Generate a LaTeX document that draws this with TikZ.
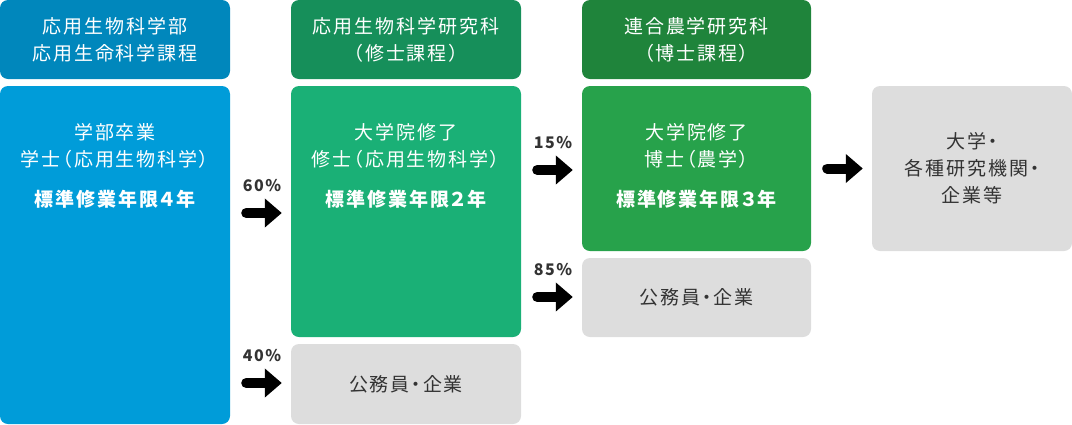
\documentclass[tikz,border=0pt]{standalone}
\usepackage{fontspec}
\setmainfont{Noto Sans CJK JP}
\newfontfamily\boxfont[LetterSpace=10,RawFeature=+palt]{Noto Sans CJK JP}
\usetikzlibrary{
  arrows.meta,
  positioning,
  calc
}

\definecolor{hdrblue}{HTML}{0087BC}
\definecolor{mainblue}{HTML}{009CD9}
\definecolor{hdrgreen}{HTML}{168F5A}
\definecolor{maingreen}{HTML}{1AB076}
\definecolor{hdrdark}{HTML}{1F843B}
\definecolor{maindark}{HTML}{27A24B}
\definecolor{boxgray}{HTML}{DDDDDD}
\definecolor{txtgray}{HTML}{333333}

\begin{document}
\begin{tikzpicture}[x=1pt,y=-1pt,
  colbox/.style={rounded corners=8pt, inner sep=0pt, align=center, text=white,
    font=\boxfont\fontsize{19}{27}\selectfont},
  graybox/.style={colbox, fill=boxgray, text=txtgray},
  boxtxt/.style={align=center, text=white, inner sep=0pt,
    font=\boxfont\fontsize{19}{27}\selectfont},
  pct/.style={text=txtgray, inner sep=0pt, font=\boxfont\bfseries\fontsize{16}{20}\selectfont},
  bigarrow/.style={line width=10pt, line cap=round, shorten <=16pt, shorten >=9pt,
    -{Triangle[length=17pt,width=28pt]}}
]
  \useasboundingbox (0,0) rectangle (1072,424);

  % headers
  \node[colbox, fill=hdrblue, minimum width=230pt, minimum height=79pt] (hdr1) at (115,39.5)
    {応用生物科学部\\応用生命科学課程};
  \node[colbox, fill=hdrgreen, minimum width=230pt, minimum height=79pt] (hdr2) at (406,39.5)
    {応用生物科学研究科\\（修士課程）};
  \node[colbox, fill=hdrdark, minimum width=229pt, minimum height=79pt] (hdr3) at (696.5,39.5)
    {連合農学研究科\\（博士課程）};

  % main boxes
  \node[colbox, fill=mainblue, minimum width=230pt, minimum height=338pt] (main1) at (115,255) {};
  \node[colbox, fill=maingreen, minimum width=230pt, minimum height=251pt] (main2) at (406,211.5) {};
  \node[colbox, fill=maindark, minimum width=229pt, minimum height=165pt] (main3) at (696.5,168.5) {};

  \node[boxtxt] (txt1) at (115,166)
    {学部卒業\\学士（応用生物科学）\\[13pt]{\bfseries 標準修業年限４年}};
  \node[boxtxt] (txt2) at (406,166)
    {大学院修了\\修士（応用生物科学）\\[13pt]{\bfseries 標準修業年限２年}};
  \node[boxtxt] (txt3) at (696.5,166)
    {大学院修了\\博士（農学）\\[13pt]{\bfseries 標準修業年限３年}};

  % gray boxes
  \node[graybox, minimum width=230pt, minimum height=80pt] (job2) at (406,384) {公務員・企業};
  \node[graybox, minimum width=229pt, minimum height=79pt] (job3) at (696.5,297.5) {公務員・企業};
  \node[graybox, minimum width=200pt, minimum height=165pt] (fin) at (972,168.5)
    {大学・\\各種研究機関・\\企業等};

  % percentages
  \node[pct] (p60) at (262,186) {60\%};
  \node[pct] (p40) at (262,356) {40\%};
  \node[pct] (p15) at (553,143) {15\%};
  \node[pct] (p85) at (553,270) {85\%};
  \coordinate[below=27pt of p60.center] (a60);
  \coordinate[below=27pt of p40.center] (a40);
  \coordinate[below=27pt of p15.center] (a15);
  \coordinate[below=27pt of p85.center] (a85);

  % arrows
  \draw[bigarrow] (main1.east |- a60) -- (main2.west |- a60);
  \draw[bigarrow] (main1.east |- a40) -- (job2.west |- a40);
  \draw[bigarrow] (main2.east |- a15) -- (main3.west |- a15);
  \draw[bigarrow] (main2.east |- a85) -- (job3.west |- a85);
  \draw[bigarrow] (main3.east) -- (fin.west);
\end{tikzpicture}
\end{document}
